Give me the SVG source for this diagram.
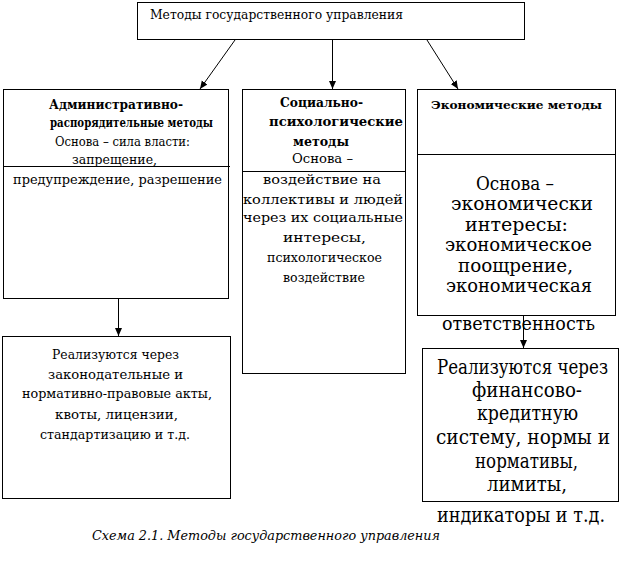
<svg xmlns="http://www.w3.org/2000/svg" width="624" height="561" viewBox="0 0 624 561" font-family="'DejaVu Serif', 'Liberation Serif', serif">
<defs>
<marker id="arr" markerUnits="userSpaceOnUse" markerWidth="9" markerHeight="8" refX="8" refY="3.5" orient="auto">
<path d="M0,0 L8,3.5 L0,7 z" fill="#000"/>
</marker>
<style>
.box{fill:#fff;stroke:#000;stroke-width:1}
.div{stroke:#000;stroke-width:1}
.conn{stroke:#000;stroke-width:1;fill:none;marker-end:url(#arr)}
text{font-family:'DejaVu Serif','Liberation Serif',serif;fill:#000}
.t13{font-size:12.5px}
.b13{font-size:12.5px;font-weight:bold}
.b12{font-size:11.5px;font-weight:bold}
.t18{font-size:19px}
.t19{font-size:20px}
.cap{font-size:13px;font-style:italic}
</style>
</defs>
<rect width="624" height="561" fill="#fff"/>

<g id="top">
<rect class="box" x="137.5" y="2.5" width="387" height="37"/>
<text class="t13" x="150" y="19" textLength="253" lengthAdjust="spacingAndGlyphs">Методы государственного управления</text>
</g>

<g id="admin">
<rect class="box" x="3.5" y="89.5" width="225" height="209"/>
<line class="div" x1="3.5" y1="166.5" x2="230" y2="166.5"/>
<text class="b13" x="49" y="109" textLength="134" lengthAdjust="spacingAndGlyphs">Административно-</text>
<text class="b13" x="50" y="127" textLength="163" lengthAdjust="spacingAndGlyphs">распорядительные методы</text>
<text class="t13" x="55" y="146" textLength="135" lengthAdjust="spacingAndGlyphs">Основа – сила власти:</text>
<text class="t13" x="72" y="164" textLength="85" lengthAdjust="spacingAndGlyphs">запрещение,</text>
<text class="t13" x="13" y="184" textLength="209" lengthAdjust="spacingAndGlyphs">предупреждение, разрешение</text>
</g>

<g id="social">
<rect class="box" x="242.5" y="89.5" width="163" height="284"/>
<line class="div" x1="242.5" y1="171.5" x2="405.5" y2="171.5"/>
<text class="b13" x="280" y="107" textLength="83" lengthAdjust="spacingAndGlyphs">Социально-</text>
<text class="b13" x="269" y="126" textLength="134" lengthAdjust="spacingAndGlyphs">психологические</text>
<text class="b13" x="293" y="146" textLength="56" lengthAdjust="spacingAndGlyphs">методы</text>
<text class="t13" x="292" y="163" textLength="61" lengthAdjust="spacingAndGlyphs">Основа –</text>
<text class="t13" x="263" y="184" textLength="118" lengthAdjust="spacingAndGlyphs">воздействие на</text>
<text class="t13" x="243" y="204" textLength="160" lengthAdjust="spacingAndGlyphs">коллективы и людей</text>
<text class="t13" x="243" y="222" textLength="160" lengthAdjust="spacingAndGlyphs">через их социальные</text>
<text class="t13" x="283" y="242" textLength="83" lengthAdjust="spacingAndGlyphs">интересы,</text>
<text class="t13" x="267" y="262" textLength="115" lengthAdjust="spacingAndGlyphs">психологическое</text>
<text class="t13" x="283" y="282" textLength="82" lengthAdjust="spacingAndGlyphs">воздействие</text>
</g>

<g id="econ">
<rect class="box" x="417.5" y="89.5" width="198" height="226"/>
<line class="div" x1="417.5" y1="154.5" x2="615.5" y2="154.5"/>
<text class="b12" x="431" y="109" textLength="171" lengthAdjust="spacingAndGlyphs">Экономические методы</text>
<text class="t18" x="476" y="190" textLength="78" lengthAdjust="spacingAndGlyphs">Основа –</text>
<text class="t18" x="451" y="210" textLength="142" lengthAdjust="spacingAndGlyphs">экономически</text>
<text class="t18" x="465" y="231" textLength="103" lengthAdjust="spacingAndGlyphs">интересы:</text>
<text class="t18" x="445" y="251" textLength="147" lengthAdjust="spacingAndGlyphs">экономическое</text>
<text class="t18" x="458" y="272" textLength="115" lengthAdjust="spacingAndGlyphs">поощрение,</text>
<text class="t18" x="446" y="292" textLength="146" lengthAdjust="spacingAndGlyphs">экономическая</text>
<text class="t18" x="442" y="330" textLength="153" lengthAdjust="spacingAndGlyphs">ответственность</text>
</g>

<g id="admin-impl">
<rect class="box" x="2.5" y="336.5" width="228" height="162"/>
<text class="t13" x="52" y="359" textLength="127" lengthAdjust="spacingAndGlyphs">Реализуются через</text>
<text class="t13" x="48" y="379" textLength="135" lengthAdjust="spacingAndGlyphs">законодательные и</text>
<text class="t13" x="22" y="398" textLength="190" lengthAdjust="spacingAndGlyphs">нормативно-правовые акты,</text>
<text class="t13" x="55" y="419" textLength="123" lengthAdjust="spacingAndGlyphs">квоты, лицензии,</text>
<text class="t13" x="40" y="439" textLength="150" lengthAdjust="spacingAndGlyphs">стандартизацию и т.д.</text>
</g>

<g id="econ-impl">
<rect class="box" x="422.5" y="348.5" width="196" height="153"/>
<text class="t19" x="437" y="374" textLength="171" lengthAdjust="spacingAndGlyphs">Реализуются через</text>
<text class="t19" x="472" y="397" textLength="110" lengthAdjust="spacingAndGlyphs">финансово-</text>
<text class="t19" x="477" y="420" textLength="101" lengthAdjust="spacingAndGlyphs">кредитную</text>
<text class="t19" x="436" y="444" textLength="174" lengthAdjust="spacingAndGlyphs">систему, нормы и</text>
<text class="t19" x="475" y="468" textLength="103" lengthAdjust="spacingAndGlyphs">нормативы,</text>
<text class="t19" x="487" y="491" textLength="80" lengthAdjust="spacingAndGlyphs">лимиты,</text>
<text class="t19" x="437" y="522" textLength="168" lengthAdjust="spacingAndGlyphs">индикаторы и т.д.</text>
</g>

<g id="caption">
<text class="cap" x="92" y="540" textLength="348" lengthAdjust="spacingAndGlyphs">Схема 2.1. Методы государственного управления</text>
</g>

<g id="connectors">
<line class="conn" x1="235" y1="40" x2="200" y2="89"/>
<line class="conn" x1="332.5" y1="40" x2="332.5" y2="89"/>
<line class="conn" x1="427" y1="40" x2="458" y2="89"/>
<line class="conn" x1="118.5" y1="299" x2="118.5" y2="336"/>
<line class="conn" x1="523.5" y1="316" x2="523.5" y2="348"/>
</g>
</svg>
